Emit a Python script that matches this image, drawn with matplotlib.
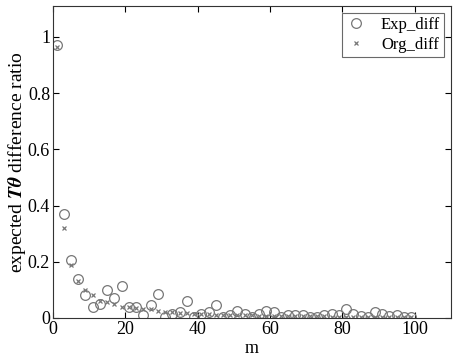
import matplotlib
matplotlib.use('Agg')
import matplotlib.pyplot as plt
import numpy as np

plt.rcParams['font.family'] = ['Liberation Serif', 'DejaVu Serif']
plt.rcParams['mathtext.fontset'] = 'stix'

# m values (odd steps)
m = list(range(1, 100, 2))

exp_diff = [0.97, 0.37, 0.205, 0.14, 0.08, 0.04, 0.05, 0.10, 0.07, 0.115,
            0.04, 0.04, 0.012, 0.045, 0.085, 0.003, 0.015, 0.02, 0.06, 0.005,
            0.015, 0.02, 0.045, 0.005, 0.012, 0.025, 0.015, 0.003, 0.015, 0.025,
            0.022, 0.005, 0.01, 0.01, 0.01, 0.005, 0.005, 0.012, 0.015, 0.01,
            0.03, 0.015, 0.008, 0.005, 0.02, 0.015, 0.008, 0.01, 0.003, 0.003]

org_diff = [0.965, 0.32, 0.19, 0.13, 0.10, 0.08, 0.06, 0.055, 0.05, 0.04,
            0.04, 0.035, 0.03, 0.03, 0.025, 0.02, 0.02, 0.018, 0.016, 0.015,
            0.014, 0.013, 0.012, 0.011, 0.01, 0.01, 0.009, 0.009, 0.008, 0.008,
            0.008, 0.007, 0.007, 0.007, 0.006, 0.006, 0.006, 0.006, 0.005, 0.005,
            0.005, 0.005, 0.005, 0.004, 0.004, 0.004, 0.004, 0.004, 0.004, 0.003]

fig = plt.figure(figsize=(4.56, 3.56), dpi=100)
ax = fig.add_axes([0.116, 0.107, 0.873, 0.876])

ax.plot(m, exp_diff, 'o', mfc='none', mec='#777777', ms=7, mew=0.9, label='Exp_diff')
ax.plot(m, org_diff, 'x', color='#777777', ms=3.5, mew=0.9, label='Org_diff')

ax.set_xlim(0, 110)
ax.set_ylim(0, 1.11)
ax.set_xticks(np.arange(0, 101, 20))
ax.set_yticks([0, 0.2, 0.4, 0.6, 0.8, 1])
ax.set_yticklabels(['0', '0.2', '0.4', '0.6', '0.8', '1'])
ax.tick_params(direction='in', top=True, right=True, labelsize=13, length=4, pad=2)
for s in ax.spines.values():
    s.set_color('#333333')

ax.set_xlabel('m', fontsize=13, labelpad=2)
ax.set_ylabel(r'expected $\boldsymbol{T\theta}$ difference ratio', fontsize=14, labelpad=0)

leg = ax.legend(loc='upper right', fontsize=12, frameon=True, fancybox=False,
                handlelength=1.2, handletextpad=0.9, borderpad=0.25,
                labelspacing=0.25, borderaxespad=0.4)
leg.get_frame().set_edgecolor('#444444')
leg.get_frame().set_linewidth(0.8)

fig.savefig('out.png', dpi=100)
